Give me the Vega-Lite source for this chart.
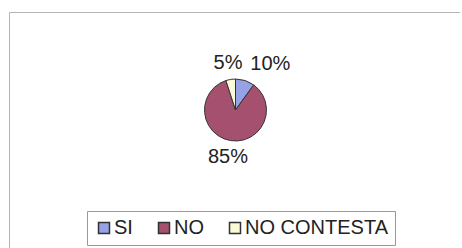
{
  "$schema": "https://vega.github.io/schema/vega-lite/v6.json",
  "width": 451,
  "height": 250,
  "autosize": "none",
  "padding": {"left": 9, "top": 12, "right": 0, "bottom": 0},
  "background": "white",
  "view": {"stroke": "#b4b4b4", "strokeWidth": 1},
  "config": {
    "view": {"stroke": "#b4b4b4", "strokeWidth": 1},
    "font": "Liberation Sans"
  },
  "data": {
    "values": [
      {"categoria": "SI", "porcentaje": 10, "orden": 1, "etiqueta": "10%"},
      {"categoria": "NO", "porcentaje": 85, "orden": 2, "etiqueta": "85%"},
      {"categoria": "NO CONTESTA", "porcentaje": 5, "orden": 3, "etiqueta": "5%"}
    ]
  },
  "encoding": {
    "theta": {"field": "porcentaje", "type": "quantitative", "stack": true},
    "order": {"field": "orden", "type": "quantitative"},
    "detail": {"field": "categoria", "type": "nominal"}
  },
  "layer": [
    {
      "mark": {"type": "arc", "radius": 31, "yOffset": -27, "xOffset": 1, "stroke": "#333333", "strokeWidth": 1},
      "encoding": {
        "color": {
          "field": "categoria",
          "type": "nominal",
          "sort": ["SI", "NO", "NO CONTESTA"],
          "scale": {"domain": ["SI", "NO", "NO CONTESTA"], "range": ["#95a3e6", "#a4506e", "#fafad6"]},
          "legend": {
            "title": null,
            "orient": "none",
            "legendX": 78,
            "legendY": 199,
            "direction": "horizontal",
            "symbolType": "square",
            "symbolSize": 121,
            "symbolStrokeColor": "#333333",
            "symbolStrokeWidth": 1.5,
            "labelFontSize": 20,
            "labelColor": "#222222",
            "labelOffset": 0,
            "columnPadding": 21,
            "padding": 7,
            "strokeColor": "#999999",
            "fillColor": "white"
          }
        }
      }
    },
    {
      "mark": {"type": "text", "radius": 48, "yOffset": -27, "xOffset": 1, "fontSize": 20, "color": "#222222", "align": "center", "baseline": "middle"},
      "encoding": {
        "text": {"condition": {"test": "datum.categoria !== 'SI'", "field": "etiqueta"}, "value": ""}
      }
    },
    {
      "mark": {"type": "text", "radius": 48, "yOffset": -27, "xOffset": 1, "fontSize": 20, "color": "#222222", "align": "left", "baseline": "middle"},
      "encoding": {
        "text": {"condition": {"test": "datum.categoria === 'SI'", "field": "etiqueta"}, "value": ""}
      }
    }
  ]
}
